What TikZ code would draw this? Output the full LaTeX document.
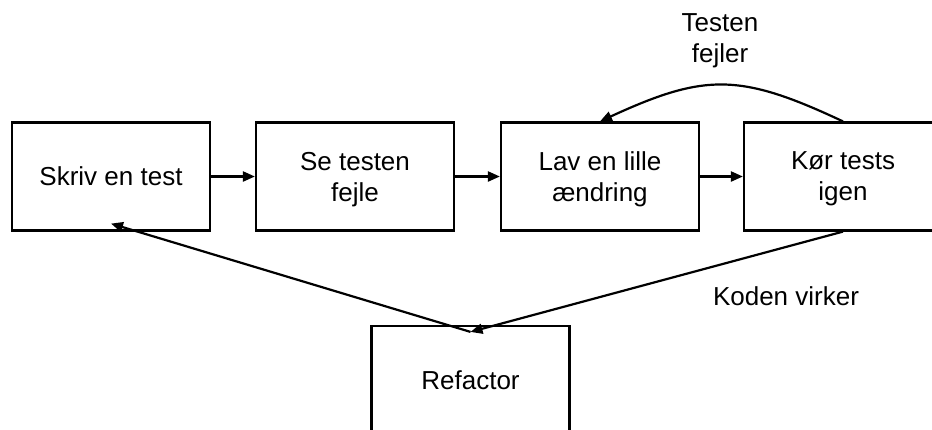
\documentclass[tikz,border=0pt]{standalone}
\usepackage{fontspec}
\setmainfont{Liberation Sans}
\usetikzlibrary{arrows.meta,calc}
\begin{document}
\begin{tikzpicture}[x=1pt,y=-1pt,
  box/.style={draw,line width=2.2pt,minimum width=198pt,minimum height=108pt,align=center,inner sep=0pt,text depth=0pt,font=\fontsize{26}{31}\selectfont},
  arr/.style={line width=2.2pt,-{Triangle[length=12pt,width=10pt]}},
  lbl/.style={align=center,inner sep=0pt,font=\fontsize{26}{31}\selectfont}]
\path[use as bounding box] (0,0) rectangle (932,429);
\clip (0,0) rectangle (932,429);
\node[box] (b1) at (111,176.5) {Skriv en test};
\node[box] (b2) at (355,176.5) {Se testen\\fejle};
\node[box] (b3) at (600,176.5) {Lav en lille\\ændring};
\node[box] (b4) at (843,176.5) {Kør tests\\igen};
\node[box] (ref) at (470.5,380) {Refactor};
\node[lbl] (lf) at (720,41) {Testen\\fejler};
\node[lbl,anchor=base] (lk) at (786,305) {Koden virker};
\draw[arr] (b1.east) -- (b2.west);
\draw[arr] (b2.east) -- (b3.west);
\draw[arr] (b3.east) -- (b4.west);
\draw[arr] (b4.north) .. controls (740,73) and (705,73) .. (b3.north);
\coordinate (rt) at ($(ref.north)+(0,7)$);
\coordinate (st) at ($(b1.south)+(0,-8)$);
\draw[arr] (b4.south) -- (rt);
\draw[arr] (rt) -- (st);
\end{tikzpicture}
\end{document}
